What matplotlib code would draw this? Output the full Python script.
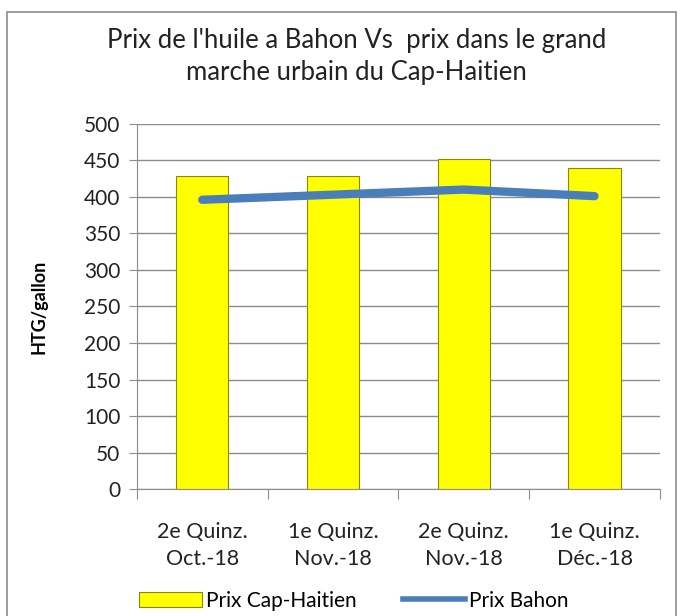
import numpy as np
import matplotlib.pyplot as plt
from matplotlib.patches import Rectangle, Patch
from matplotlib.lines import Line2D

categories = ["2e Quinz.\nOct.-18", "1e Quinz.\nNov.-18", "2e Quinz.\nNov.-18", "1e Quinz.\nDéc.-18"]
prix_cap = [428, 428, 452, 440]
prix_bahon = [396, 403, 410, 401]

plt.rcParams['font.family'] = ['Lato', 'DejaVu Sans']

fig = plt.figure(figsize=(6.81, 6.16), dpi=100)
ax = fig.add_axes([0.201, 0.206, 0.768, 0.593])

x = np.arange(len(categories))
ax.bar(x, prix_cap, width=0.4, color="#ffff00", edgecolor="#8a8a00", linewidth=0.8, zorder=3)
ax.plot(x, prix_bahon, color="#4a7ebb", linewidth=6, solid_capstyle="round",
        solid_joinstyle="round", zorder=4)

ax.set_xlim(-0.5, len(categories) - 0.5)
ax.set_ylim(0, 500)
ax.set_yticks(range(0, 501, 50))
ax.set_yticklabels([str(v) for v in range(0, 501, 50)], fontsize=15, color="#222222")
ax.yaxis.grid(True, color="#8c8c8c", linewidth=1, zorder=0)

# category ticks at boundaries, labels centred
ax.set_xticks(np.arange(-0.5, len(categories), 1.0))
ax.set_xticklabels([])
ax.set_xticks(x, minor=True)
ax.set_xticklabels(categories, minor=True, fontsize=15.5, color="#222222", linespacing=1.4)
ax.tick_params(axis='x', which='major', length=7, color="#8c8c8c")
ax.tick_params(axis='x', which='minor', length=0, pad=24)
ax.tick_params(axis='y', length=6, color="#8c8c8c", pad=6)

for side in ["top", "right"]:
    ax.spines[side].set_visible(False)
ax.spines["left"].set_color("#8c8c8c")
ax.spines["bottom"].set_color("#8c8c8c")

ax.set_ylabel("HTG/gallon", fontsize=13, fontweight="bold", labelpad=26)

fig.text(0.524, 0.909, "Prix de l'huile a Bahon Vs  prix dans le grand\nmarche urbain du Cap-Haitien",
         ha="center", va="center", fontsize=18.5, linespacing=1.35, color="#222222")

handles = [Patch(facecolor="#ffff00", edgecolor="#8a8a00", linewidth=0.8),
           Line2D([0], [0], color="#4a7ebb", linewidth=4)]
fig.legend(handles, ["Prix Cap-Haitien", "Prix Bahon"], loc="center", bbox_to_anchor=(0.52, 0.025),
           ncol=2, frameon=False, fontsize=15, handlelength=3, handletextpad=0.2, columnspacing=2.2)

fig.patches.append(Rectangle((0.011, -0.05), 0.982, 1.03, transform=fig.transFigure,
                             fill=False, edgecolor="#8c8c8c", linewidth=1.2))

fig.savefig("out.png", dpi=100)
